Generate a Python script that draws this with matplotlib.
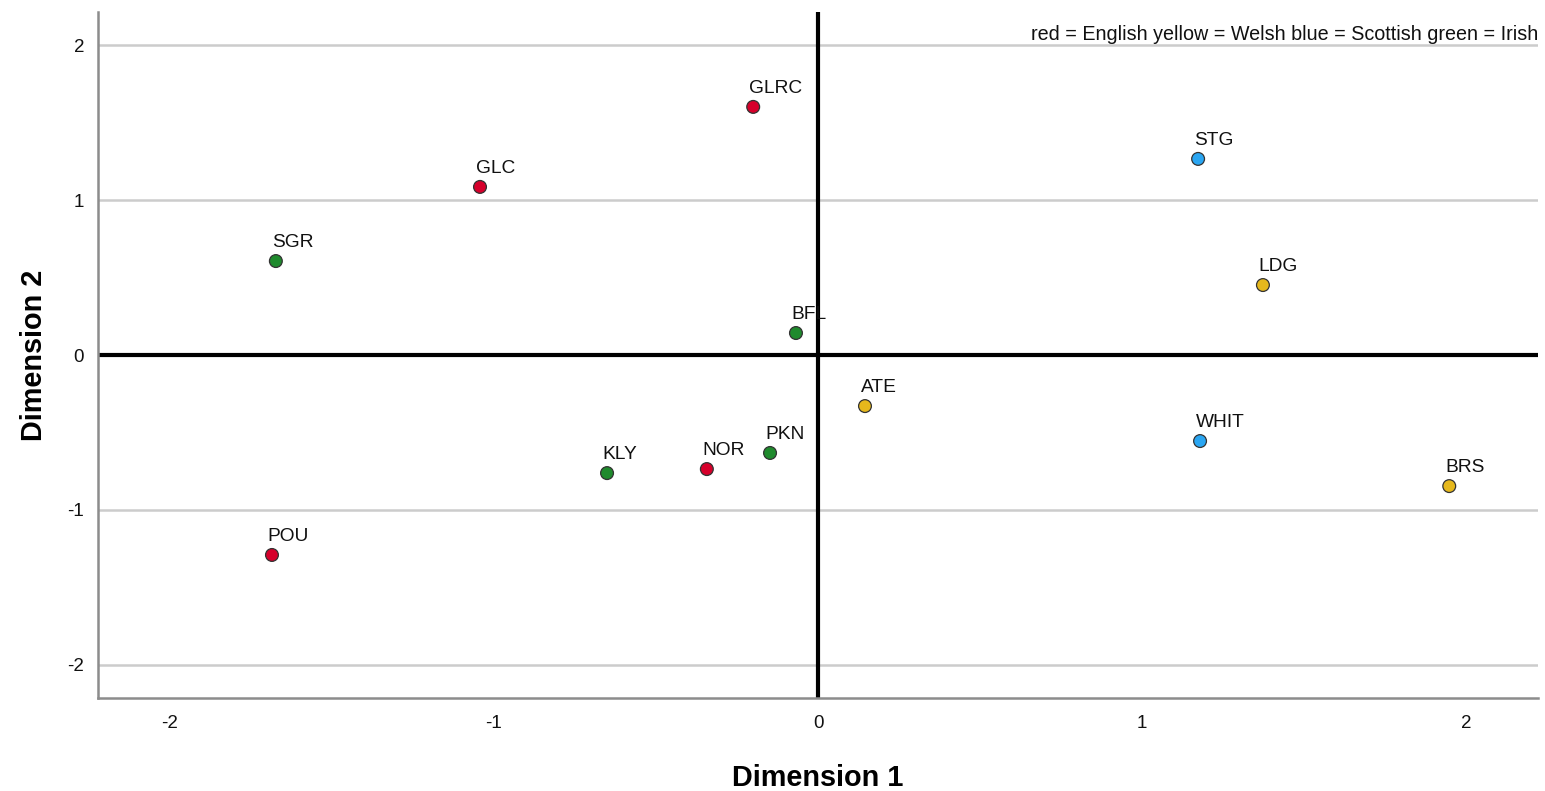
import matplotlib.pyplot as plt

plt.rcParams['font.family'] = ['Liberation Sans', 'DejaVu Sans']
plt.rcParams['axes.unicode_minus'] = False

# stimulus coordinates
labels = ['GLRC', 'GLC', 'SGR', 'STG', 'LDG', 'BFL', 'ATE', 'WHIT', 'BRS', 'PKN', 'NOR', 'KLY', 'POU']
dim1 = [-0.20, -1.043, -1.673, 1.173, 1.373, -0.068, 0.145, 1.179, 1.948, -0.148, -0.343, -0.651, -1.685]
dim2 = [1.603, 1.086, 0.607, 1.267, 0.452, 0.142, -0.330, -0.556, -0.847, -0.633, -0.737, -0.763, -1.292]
group = ['English', 'English', 'Irish', 'Scottish', 'Welsh', 'Irish', 'Welsh', 'Scottish', 'Welsh',
         'Irish', 'English', 'Irish', 'English']

colors = {'English': '#d6002b', 'Welsh': '#e6b81c', 'Scottish': '#2aa6f2', 'Irish': '#1f8a2d'}

fig = plt.figure(figsize=(15.45, 7.91), dpi=100)
ax = fig.add_axes([0.0634, 0.1176, 0.9321, 0.8672])

ax.set_xlim(-2.222, 2.222)
ax.set_ylim(-2.216, 2.216)
ax.set_xticks([-2, -1, 0, 1, 2])
ax.set_yticks([-2, -1, 0, 1, 2])
ax.tick_params(length=0, labelsize=13.5, pad=12, labelcolor='#111111')
ax.tick_params(axis='y', pad=10)

ax.grid(axis='y', color='#cccccc', linewidth=1.8)
ax.set_axisbelow(True)
for s in ['top', 'right']:
    ax.spines[s].set_visible(False)
for s in ['left', 'bottom']:
    ax.spines[s].set_color('#8c8c8c')
    ax.spines[s].set_linewidth(1.8)

ax.axhline(0, color='black', linewidth=3, zorder=2)
ax.axvline(0, color='black', linewidth=3, zorder=2)

ax.scatter(dim1, dim2, s=85, c=[colors[g] for g in group], edgecolors='#333333',
           linewidths=0.9, zorder=3)
for lab, x, y in zip(labels, dim1, dim2):
    ax.annotate(lab, (x, y), xytext=(-3, 7), textcoords='offset points',
                ha='left', va='bottom', fontsize=13.8, color='#111111')

ax.text(1.0, 0.953, 'red = English yellow = Welsh blue = Scottish green = Irish',
        transform=ax.transAxes, ha='right', va='bottom', fontsize=14.2, color='#111111')

ax.set_xlabel('Dimension 1', fontsize=20.8, fontweight='bold', labelpad=23)
ax.set_ylabel('Dimension 2', fontsize=20.8, fontweight='bold', labelpad=14)

fig.savefig('out.png', dpi=100)
